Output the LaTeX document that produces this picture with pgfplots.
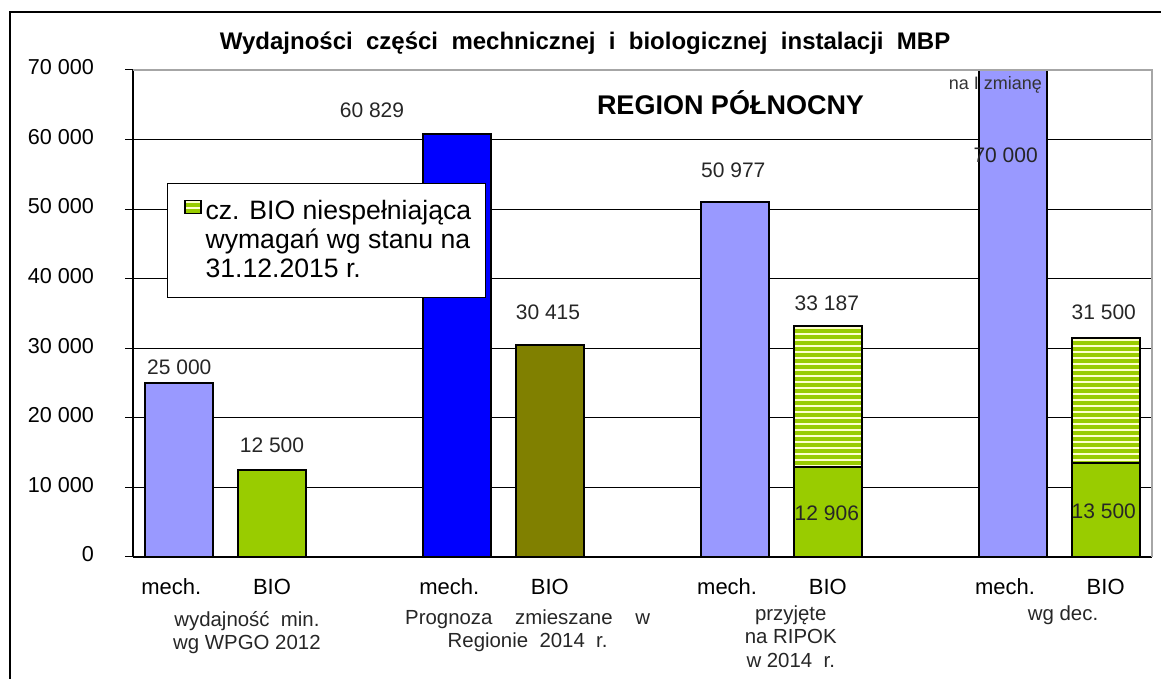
\documentclass[border=0pt]{standalone}
\usepackage{fontspec}
\setmainfont{Liberation Sans}
\usepackage{pgfplots}
\pgfplotsset{compat=1.18}
\usetikzlibrary{patterns.meta}
\definecolor{mechl}{RGB}{153,153,255}
\definecolor{mechb}{RGB}{0,0,255}
\definecolor{bio}{RGB}{153,204,0}
\definecolor{bioolive}{RGB}{128,128,0}
\definecolor{hatchbg}{RGB}{255,255,204}
\tikzset{hatched/.style={fill=hatchbg, postaction={pattern={Lines[angle=0,distance=3pt,line width=1.7pt]}, pattern color=bio}}}
\begin{document}
\begin{tikzpicture}
\useasboundingbox (0,0) rectangle (580.5pt,339.5pt);
\draw[black, line width=0.8pt] (5pt,-20pt) rectangle (600pt,333.5pt);
\begin{axis}[
  at={(66.5pt,61pt)}, anchor=south west,
  scale only axis, width=509.5pt, height=243.5pt,
  xmin=-0.5, xmax=10.5, ymin=0, ymax=70000,
  clip=false,
  axis x line*=bottom, axis y line*=left,
  axis line style={black, line width=0.6pt, -},
  ytick={0,10000,...,70000},
  scaled y ticks=false,
  /pgf/number format/1000 sep={\ },
  /pgf/number format/assume math mode=true,
  ymajorgrids, grid style={black, line width=0.5pt},
  tick align=outside,
  major tick length=4pt, minor tick length=4pt,
  ytick style={black, line width=0.5pt},
  xtick={0,...,10},
  xtick style={draw=none},
  minor xtick={-0.5,0.5,...,10.5},
  minor tick style={black, line width=0.5pt},
  typeset ticklabels with strut,
  xticklabels={mech.\hspace*{8pt},BIO,,mech.\hspace*{8pt},BIO,,mech.\hspace*{8pt},BIO,,mech.\hspace*{8pt},BIO},
  tick label style={font=\fontsize{10.8}{12}\selectfont},
  xticklabel style={yshift=-3pt, font=\fontsize{11}{12}\selectfont},
  yticklabel style={xshift=-12pt},
  legend style={at={(axis cs:-0.13,53758)}, anchor=north west, draw=black, line width=0.6pt, fill=white,
    font=\fontsize{13.3}{14.5}\selectfont, inner xsep=5pt, inner ysep=6.5pt, nodes={align=left}},
  legend cell align=left,
]
\addplot[ybar, bar width=0.734, bar shift=0pt, fill=mechl, draw=black, line width=1pt, forget plot]
  coordinates {(0,25000) (6,50977) (9,70000)};
\addplot[ybar, bar width=0.734, bar shift=0pt, fill=mechb, draw=black, line width=1pt, forget plot]
  coordinates {(3,60829)};
\addplot[ybar, bar width=0.734, bar shift=0pt, fill=bio, draw=black, line width=1pt, forget plot]
  coordinates {(1,12500)};
\addplot[ybar, bar width=0.734, bar shift=0pt, fill=bioolive, draw=black, line width=1pt, forget plot]
  coordinates {(4,30415)};
\addplot[ybar, bar width=0.734, bar shift=0pt, hatched, draw=black, line width=1pt,
  legend image code/.code={\path (0pt,-16pt); \draw[hatched, draw=black, line width=0.7pt] (3pt,13.5pt) rectangle (11pt,20pt);}]
  coordinates {(7,33187) (10,31500)};
\addlegendentry{cz. BIO niespełniająca\\wymagań wg stanu na\\31.12.2015 r.}
\addplot[ybar, bar width=0.734, bar shift=0pt, fill=bio, draw=black, line width=1pt, forget plot]
  coordinates {(7,12906) (10,13500)};
\draw[gray!70, line width=0.6pt] (rel axis cs:0,1) -- (rel axis cs:1,1) -- (rel axis cs:1,0);
% annotations
\begin{scope}[font=\fontsize{10.5}{12}\selectfont, text=black!85]
\node at (axis cs:0,27310) {25 000};
\node at (axis cs:1,16099) {12 500};
\node at (axis cs:2.08,64250) {60 829};
\node at (axis cs:3.98,35216) {30 415};
\node at (axis cs:5.98,55626) {50 977};
\node at (axis cs:6.99,36509) {33 187};
\node at (axis cs:6.99,6324) {12 906};
\node at (axis cs:8.92,57782) {70 000};
\node at (axis cs:9.98,35216) {31 500};
\node at (axis cs:9.98,6612) {13 500};
\end{scope}
\node[font=\fontsize{9}{10}\selectfont, text=black!80] at (axis cs:8.81,67844) {na I zmianę};
\node[font=\bfseries\fontsize{13.5}{15}\selectfont] at (axis cs:5.95,65257) {REGION PÓŁNOCNY};
\node[font=\bfseries\fontsize{12}{14}\selectfont] at (axis cs:4.38,73881) {Wydajności\ \ części\ \ mechnicznej\ \ i\ \ biologicznej\ \ instalacji\ \ MBP};
\begin{scope}[font=\fontsize{10.2}{11.8}\selectfont, align=center, text=black!85]
\node at (axis cs:0.73,-10850) {wydajność\ \ min.\\wg WPGO 2012};
\node at (axis cs:3.76,-10600) {Prognoza\ \ \ \ zmieszane\ \ \ \ w\\Regionie\ \ 2014\ \ r.};
\node at (axis cs:6.6,-11400) {przyjęte\\na RIPOK\\w 2014\ \ r.};
\node at (axis cs:9.54,-8340) {wg dec.};
\end{scope}
\end{axis}
\end{tikzpicture}
\end{document}
